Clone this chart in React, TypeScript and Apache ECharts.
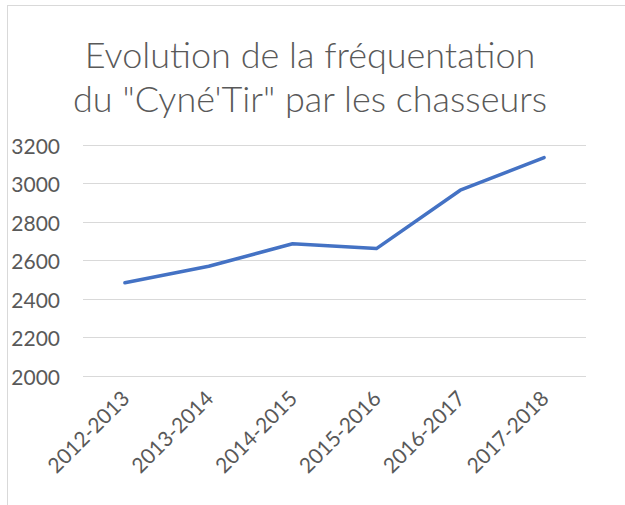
import React, { useEffect, useRef } from "react";
import * as echarts from "echarts";

const categories = ["2012-2013", "2013-2014", "2014-2015", "2015-2016", "2016-2017", "2017-2018"];
const values = [2484, 2570, 2687, 2662, 2965, 3135];
const titleText = 'Evolution de la fréquentation\ndu "Cyné\'Tir" par les chasseurs';

export default function App() {
  const ref = useRef<HTMLDivElement>(null);
  useEffect(() => {
    const chart = echarts.init(ref.current!, null, { renderer: "svg" });
    chart.setOption({
      animation: false,
      backgroundColor: "#ffffff",
      title: {
        text: titleText,
        left: 305,
        top: 27,
        textAlign: "center",
        textStyle: {
          fontFamily: "Lato",
          fontSize: 36,
          fontWeight: 300,
          color: "#595959",
          lineHeight: 44,
        },
      },
      graphic: [
        { type: "line", shape: { x1: 7, y1: 5.5, x2: 625, y2: 5.5 }, style: { stroke: "#d9d9d9", lineWidth: 1 } },
        { type: "line", shape: { x1: 7.5, y1: 5, x2: 7.5, y2: 505 }, style: { stroke: "#d9d9d9", lineWidth: 1 } },
      ],
      grid: { left: 83, right: 39, top: 145, bottom: 129, containLabel: false },
      xAxis: {
        type: "category",
        data: categories,
        boundaryGap: true,
        axisLine: { show: false },
        axisTick: { show: false },
        axisLabel: {
          rotate: 45,
          margin: 18,
          fontFamily: "Lato",
          fontSize: 21,
          color: "#595959",
          interval: 0,
        },
      },
      yAxis: {
        type: "value",
        min: 2000,
        max: 3200,
        interval: 200,
        axisLine: { show: false },
        axisTick: { show: false },
        splitLine: { lineStyle: { color: "#d9d9d9", width: 1 } },
        axisLabel: {
          fontFamily: "Lato",
          fontSize: 21,
          color: "#595959",
          margin: 23,
          formatter: (v: number) => String(v),
        },
      },
      series: [
        {
          type: "line",
          data: values,
          symbol: "none",
          lineStyle: { color: "#4472c4", width: 3.5, cap: "round", join: "round" },
        },
      ],
    });
    return () => chart.dispose();
  }, []);
  return <div ref={ref} style={{ width: 625, height: 505, position: "absolute", left: 0, top: 0 }} />;
}
